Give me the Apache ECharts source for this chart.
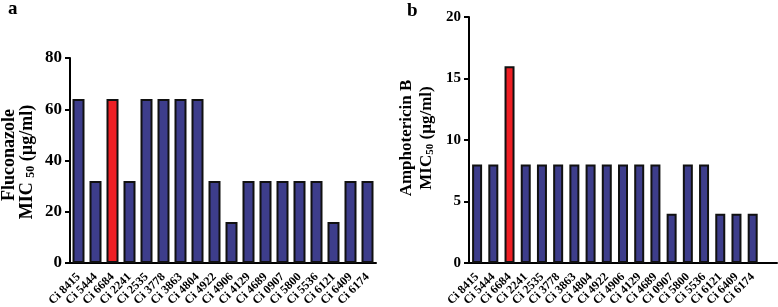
<!DOCTYPE html>
<html><head><meta charset="utf-8">
<script src="https://cdn.jsdelivr.net/npm/echarts@6/dist/echarts.min.js"></script>
<style>html,body{margin:0;padding:0;background:#fff}#c{width:778px;height:307px}</style>
</head><body><div id="c"></div>
<script>
const categoriesA = ['Ci 8415','Ci 5444','Ci 6684','Ci 2241','Ci 2535','Ci 3778','Ci 3863','Ci 4804','Ci 4922','Ci 4906','Ci 4129','Ci 4689','Ci 0907','Ci 5800','Ci 5536','Ci 6121','Ci 6409','Ci 6174'];
const fluconazole = [64,32,64,32,64,64,64,64,32,16,32,32,32,32,32,16,32,32];
const categoriesB = ['Ci 8415','Ci 5444','Ci 6684','Ci 2241','Ci 2535','Ci 3778','Ci 3863','Ci 4804','Ci 4922','Ci 4906','Ci 4129','Ci 4689','Ci 0907','Ci 5800','Ci 5536','Ci 6121','Ci 6409','Ci 6174',''];
const amphotericin = [8,8,16,8,8,8,8,8,8,8,8,8,4,8,8,4,4,4,null];
const yTicksA = [0,20,40,60,80];
const yTicksB = [0,5,10,15,20];
const highlightCat = 'Ci 6684';

const FONT = '"Liberation Serif","Times New Roman",serif';
const blue = '#3d3d8b', red = '#ee1f24';
const chart = echarts.init(document.getElementById('c'));

function xAxis(idx, cats){
  return {type:'category', gridIndex:idx, data:cats, boundaryGap:true,
    axisLine:{lineStyle:{color:'#000', width:2}},
    axisTick:{alignWithLabel:true, length:5, lineStyle:{color:'#000', width:2}},
    axisLabel:{interval:0, rotate:45, margin:12, color:'#000', fontFamily:FONT, fontWeight:'bold', fontSize:12}};
}
function yAxis(idx, ticks, fs){
  return {type:'value', gridIndex:idx, min:ticks[0], max:ticks[ticks.length-1], interval:ticks[1]-ticks[0],
    splitLine:{show:false},
    axisLine:{show:true, lineStyle:{color:'#000', width:2}},
    axisTick:{show:true, length:5, lineStyle:{color:'#000', width:2}},
    axisLabel:{margin:8, color:'#000', fontFamily:FONT, fontWeight:'bold', fontSize:fs}};
}
function barColor(cats){ return p => cats[p.dataIndex] === highlightCat ? red : blue; }

function rich(fs, ss){
  return {
    t:{fontFamily:FONT, fontWeight:'bold', fontSize:fs, fill:'#000'},
    s:{fontFamily:FONT, fontWeight:'bold', fontSize:ss, fill:'#000', padding:[Math.round(fs*0.4),0,0,0]}
  };
}
function vText(x, y, text, fs, ss){
  return {type:'text', x:x, y:y, rotation:Math.PI/2,
    style:{text:text, textAlign:'center', textVerticalAlign:'middle', rich:rich(fs, ss), fill:'#000',
      font:'bold '+fs+'px '+FONT}};
}

chart.setOption({
  animation:false,
  grid:[{left:70, top:58, width:306, height:205, containLabel:false, outerBoundsMode:'none'},
        {left:469, top:17, width:308, height:246, containLabel:false, outerBoundsMode:'none'}],
  xAxis:[xAxis(0, categoriesA), xAxis(1, categoriesB)],
  yAxis:[yAxis(0, yTicksA, 17), yAxis(1, yTicksB, 15)],
  series:[
    {type:'bar', xAxisIndex:0, yAxisIndex:0, data:fluconazole, barWidth:12,
      itemStyle:{color:barColor(categoriesA), borderColor:'#111', borderWidth:2}},
    {type:'bar', xAxisIndex:1, yAxisIndex:1, data:amphotericin, barWidth:10,
      itemStyle:{color:barColor(categoriesB), borderColor:'#111', borderWidth:2}}
  ],
  graphic:[
    {type:'text', left:8, top:0, style:{text:'a', font:'bold 19px '+FONT, fill:'#000'}},
    {type:'text', left:407, top:2, style:{text:'b', font:'bold 19px '+FONT, fill:'#000'}},
    vText(9, 155, '{t|Fluconazole}', 18, 12),
    vText(27, 162, '{t|MIC }{s|50}{t| (µg/ml)}', 18, 12),
    vText(407, 138, '{t|Amphotericin B}', 17, 11),
    vText(427, 138, '{t|MIC}{s|50}{t| (µg/ml)}', 17, 11)
  ]
});
</script></body></html>
